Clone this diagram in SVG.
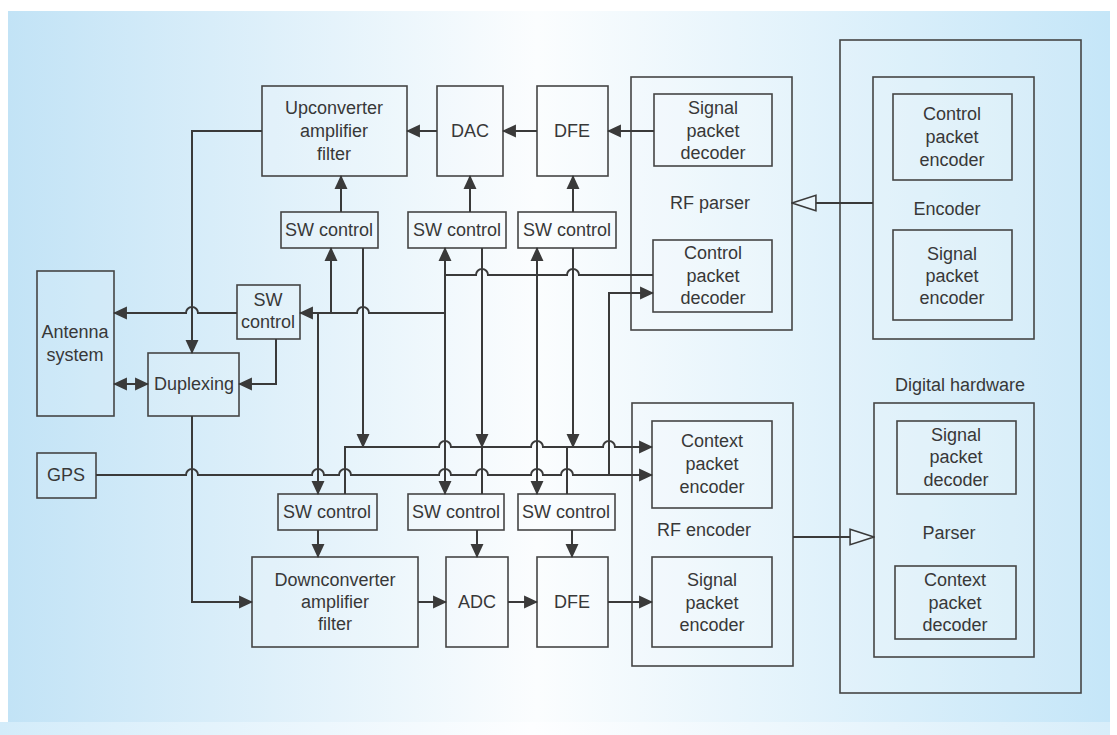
<svg xmlns="http://www.w3.org/2000/svg" width="1117" height="735" viewBox="0 0 1117 735">
  <defs>
    <linearGradient id="bg" x1="0" y1="0" x2="1" y2="0">
      <stop offset="0" stop-color="#c2e3f6"/>
      <stop offset="0.48" stop-color="#fbfdfe"/>
      <stop offset="1" stop-color="#c5e6f8"/>
    </linearGradient>
    <linearGradient id="bgLow" x1="0" y1="0" x2="1" y2="0">
      <stop offset="0" stop-color="#d3ecfa"/>
      <stop offset="0.48" stop-color="#fdfeff"/>
      <stop offset="1" stop-color="#d8eefa"/>
    </linearGradient>
    <marker id="arr" markerUnits="userSpaceOnUse" markerWidth="14" markerHeight="14" viewBox="0 0 13 12" refX="12" refY="6" orient="auto">
      <path d="M0,0 L13,6 L0,12 z" fill="#3a3a3a"/>
    </marker>
    <marker id="arrS" markerUnits="userSpaceOnUse" markerWidth="14" markerHeight="14" viewBox="0 0 13 12" refX="1" refY="6" orient="auto">
      <path d="M13,0 L0,6 L13,12 z" fill="#3a3a3a"/>
    </marker>
    <marker id="hollow" markerUnits="userSpaceOnUse" markerWidth="26" markerHeight="20" viewBox="-1 -1 25 18" refX="23" refY="7.5" orient="auto">
      <path d="M0,0 L23,7.5 L0,15 z" fill="#e9f5fc" stroke="#3a3a3a" stroke-width="1.5" stroke-linejoin="miter"/>
    </marker>
    <style>
      .box { fill: #ffffff; fill-opacity: 0.12; stroke: #454545; stroke-width: 1.6; }
      .lbl { font-family: "Liberation Sans", Arial, sans-serif; font-size: 18px; fill: #383838; text-anchor: middle; }
      .wire { fill: none; stroke: #3a3a3a; stroke-width: 2; }
      .arrow { marker-end: url(#arr); }
    </style>
  </defs>

  <!-- backdrop -->
  <rect x="0" y="0" width="1117" height="735" fill="#ffffff"/>
  <rect x="8" y="11" width="1102" height="711" fill="url(#bg)"/>
  <rect x="0" y="722" width="1110" height="13" fill="url(#bgLow)"/>

  <!-- transmit chain -->
  <g id="upconverter">
    <rect class="box" x="262" y="86" width="145" height="90"/>
    <text class="lbl" x="334" y="114">Upconverter</text>
    <text class="lbl" x="334" y="137">amplifier</text>
    <text class="lbl" x="334" y="160">filter</text>
  </g>
  <g id="dac">
    <rect class="box" x="437" y="86" width="66" height="90"/>
    <text class="lbl" x="470" y="137">DAC</text>
  </g>
  <g id="dfe-tx">
    <rect class="box" x="537" y="86" width="71" height="90"/>
    <text class="lbl" x="572" y="137">DFE</text>
  </g>

  <!-- RF parser -->
  <g id="rf-parser">
    <rect class="box" x="631" y="77" width="161" height="253"/>
    <text class="lbl" x="710" y="209">RF parser</text>
  </g>
  <g id="signal-packet-decoder-rf">
    <rect class="box" x="654" y="94" width="118" height="72"/>
    <text class="lbl" x="713" y="114">Signal</text>
    <text class="lbl" x="713" y="137">packet</text>
    <text class="lbl" x="713" y="159">decoder</text>
  </g>
  <g id="control-packet-decoder">
    <rect class="box" x="653" y="240" width="119" height="72"/>
    <text class="lbl" x="713" y="259">Control</text>
    <text class="lbl" x="713" y="282">packet</text>
    <text class="lbl" x="713" y="304">decoder</text>
  </g>

  <!-- digital hardware -->
  <g id="digital-hardware">
    <rect class="box" x="840" y="40" width="241" height="653"/>
    <text class="lbl" x="960" y="391">Digital hardware</text>
  </g>
  <g id="encoder">
    <rect class="box" x="873" y="77" width="161" height="262"/>
    <text class="lbl" x="947" y="215">Encoder</text>
  </g>
  <g id="control-packet-encoder">
    <rect class="box" x="893" y="94" width="119" height="86"/>
    <text class="lbl" x="952" y="120">Control</text>
    <text class="lbl" x="952" y="143">packet</text>
    <text class="lbl" x="952" y="166">encoder</text>
  </g>
  <g id="signal-packet-encoder-dh">
    <rect class="box" x="893" y="230" width="119" height="90"/>
    <text class="lbl" x="952" y="260">Signal</text>
    <text class="lbl" x="952" y="282">packet</text>
    <text class="lbl" x="952" y="304">encoder</text>
  </g>
  <g id="parser">
    <rect class="box" x="874" y="403" width="160" height="254"/>
    <text class="lbl" x="949" y="539">Parser</text>
  </g>
  <g id="signal-packet-decoder-dh">
    <rect class="box" x="897" y="421" width="119" height="73"/>
    <text class="lbl" x="956" y="441">Signal</text>
    <text class="lbl" x="956" y="463">packet</text>
    <text class="lbl" x="956" y="486">decoder</text>
  </g>
  <g id="context-packet-decoder">
    <rect class="box" x="895" y="566" width="121" height="73"/>
    <text class="lbl" x="955" y="586">Context</text>
    <text class="lbl" x="955" y="609">packet</text>
    <text class="lbl" x="955" y="631">decoder</text>
  </g>

  <!-- RF encoder -->
  <g id="rf-encoder">
    <rect class="box" x="632" y="403" width="161" height="263"/>
    <text class="lbl" x="704" y="536">RF encoder</text>
  </g>
  <g id="context-packet-encoder">
    <rect class="box" x="652" y="421" width="120" height="87"/>
    <text class="lbl" x="712" y="447">Context</text>
    <text class="lbl" x="712" y="470">packet</text>
    <text class="lbl" x="712" y="493">encoder</text>
  </g>
  <g id="signal-packet-encoder-rf">
    <rect class="box" x="652" y="557" width="120" height="90"/>
    <text class="lbl" x="712" y="586">Signal</text>
    <text class="lbl" x="712" y="609">packet</text>
    <text class="lbl" x="712" y="631">encoder</text>
  </g>

  <!-- switch controls -->
  <g id="sw-control-up">
    <rect class="box" x="281" y="212" width="97" height="36"/>
    <text class="lbl" x="329" y="236">SW control</text>
  </g>
  <g id="sw-control-dac">
    <rect class="box" x="408" y="212" width="98" height="36"/>
    <text class="lbl" x="457" y="236">SW control</text>
  </g>
  <g id="sw-control-dfe-tx">
    <rect class="box" x="518" y="212" width="98" height="36"/>
    <text class="lbl" x="567" y="236">SW control</text>
  </g>
  <g id="sw-control-antenna">
    <rect class="box" x="237" y="285" width="63" height="54"/>
    <text class="lbl" x="268" y="306">SW</text>
    <text class="lbl" x="268" y="328">control</text>
  </g>
  <g id="sw-control-down">
    <rect class="box" x="278" y="494" width="99" height="36"/>
    <text class="lbl" x="327" y="518">SW control</text>
  </g>
  <g id="sw-control-adc">
    <rect class="box" x="408" y="494" width="96" height="36"/>
    <text class="lbl" x="456" y="518">SW control</text>
  </g>
  <g id="sw-control-dfe-rx">
    <rect class="box" x="518" y="494" width="97" height="36"/>
    <text class="lbl" x="566" y="518">SW control</text>
  </g>

  <!-- front end -->
  <g id="antenna-system">
    <rect class="box" x="37" y="271" width="77" height="145"/>
    <text class="lbl" x="75" y="338">Antenna</text>
    <text class="lbl" x="75" y="361">system</text>
  </g>
  <g id="duplexing">
    <rect class="box" x="148" y="353" width="91" height="63"/>
    <text class="lbl" x="194" y="390">Duplexing</text>
  </g>
  <g id="gps">
    <rect class="box" x="37" y="453" width="59" height="45"/>
    <text class="lbl" x="66" y="481">GPS</text>
  </g>

  <!-- receive chain -->
  <g id="downconverter">
    <rect class="box" x="252" y="557" width="166" height="90"/>
    <text class="lbl" x="335" y="586">Downconverter</text>
    <text class="lbl" x="335" y="608">amplifier</text>
    <text class="lbl" x="335" y="630">filter</text>
  </g>
  <g id="adc">
    <rect class="box" x="446" y="557" width="62" height="90"/>
    <text class="lbl" x="477" y="608">ADC</text>
  </g>
  <g id="dfe-rx">
    <rect class="box" x="537" y="557" width="71" height="90"/>
    <text class="lbl" x="572" y="608">DFE</text>
  </g>

  <!-- connectors -->
  <g id="connectors">
    <!-- transmit data path -->
    <path class="wire arrow" d="M437,131 H407"/>
    <path class="wire arrow" d="M537,131 H503"/>
    <path class="wire arrow" d="M654,131 H608"/>
    <path class="wire arrow" d="M262,131 H192 V353"/>

    <!-- switch controls into the transmit chain -->
    <path class="wire arrow" d="M341,212 V176"/>
    <path class="wire arrow" d="M470,212 V176"/>
    <path class="wire arrow" d="M573,212 V176"/>

    <!-- control packet decoder distribution -->
    <path class="wire" d="M653,275 H579 A6,6 0 0 0 567,275 H488 A6,6 0 0 0 476,275 H445"/>
    <path class="wire arrow" d="M445,275 V248"/>
    <path class="wire arrow" d="M445,275 V494"/>
    <path class="wire arrow" d="M537,275 V248"/>
    <path class="wire arrow" d="M537,275 V494"/>
    <path class="wire arrow" d="M445,313 H369 A6,6 0 0 0 357,313 H300"/>
    <path class="wire arrow" d="M331,313 V248"/>
    <path class="wire arrow" d="M318,313 V494"/>

    <!-- antenna switching and duplexer -->
    <path class="wire arrow" d="M237,313 H198 A6,6 0 0 0 186,313 H114"/>
    <path class="wire arrow" d="M276,339 V384 H239"/>
    <path class="wire" d="M114,384 H148" marker-start="url(#arrS)" marker-end="url(#arr)"/>
    <path class="wire arrow" d="M192,416 V602 H252"/>

    <!-- GPS feed -->
    <path class="wire arrow" d="M96,475 H186 A6,6 0 0 1 198,475 H312 A6,6 0 0 1 324,475 H339 A6,6 0 0 1 351,475 H439 A6,6 0 0 1 451,475 H476 A6,6 0 0 1 488,475 H531 A6,6 0 0 1 543,475 H561 A6,6 0 0 1 573,475 H652"/>
    <path class="wire arrow" d="M609,475 V293 H653"/>

    <!-- switch status bus to context packet encoder -->
    <path class="wire arrow" d="M363,248 V447"/>
    <path class="wire arrow" d="M482,248 V447"/>
    <path class="wire arrow" d="M573,248 V447"/>
    <path class="wire arrow" d="M345,494 V447 H439 A6,6 0 0 1 451,447 H531 A6,6 0 0 1 543,447 H603 A6,6 0 0 1 615,447 H652"/>
    <path class="wire" d="M482,494 V447"/>
    <path class="wire" d="M567,494 V447"/>

    <!-- receive chain -->
    <path class="wire arrow" d="M318,530 V557"/>
    <path class="wire arrow" d="M477,530 V557"/>
    <path class="wire arrow" d="M572,530 V557"/>
    <path class="wire arrow" d="M418,602 H446"/>
    <path class="wire arrow" d="M508,602 H537"/>
    <path class="wire arrow" d="M608,602 H652"/>

    <!-- links to digital hardware -->
    <path class="wire" d="M873,203 H792" stroke-width="1.6" marker-end="url(#hollow)"/>
    <path class="wire" d="M793,537 H874" stroke-width="1.6" marker-end="url(#hollow)"/>
  </g>
</svg>
